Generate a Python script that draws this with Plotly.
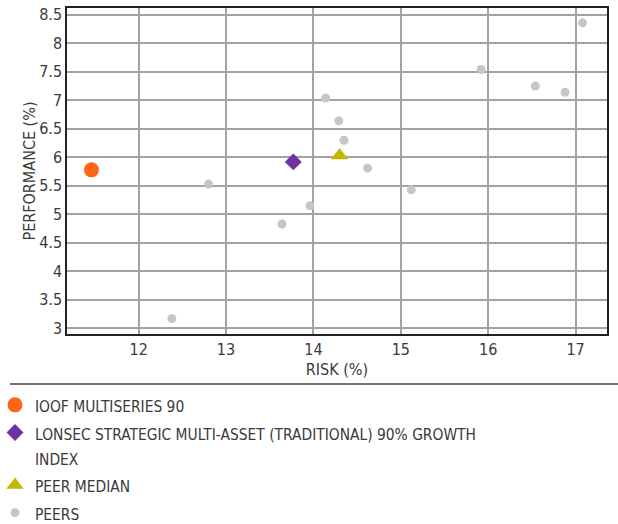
import plotly.graph_objects as go

# Data
ioof_name = "IOOF MULTISERIES 90"
ioof_risk = [11.46]
ioof_perf = [5.78]

lonsec_name = "LONSEC STRATEGIC MULTI-ASSET (TRADITIONAL) 90% GROWTH<br>INDEX"
lonsec_risk = [13.77]
lonsec_perf = [5.92]

median_name = "PEER MEDIAN"
median_risk = [14.30]
median_perf = [6.03]

peers_name = "PEERS"
peers_risk = [12.38, 12.80, 13.64, 13.96, 14.14, 14.29, 14.35, 14.62, 15.12, 15.92, 16.54, 16.88, 17.08]
peers_perf = [3.17, 5.53, 4.83, 5.15, 7.04, 6.64, 6.30, 5.81, 5.43, 7.54, 7.25, 7.14, 8.36]

x_ticks = [12, 13, 14, 15, 16, 17]
y_ticks = [3, 3.5, 4, 4.5, 5, 5.5, 6, 6.5, 7, 7.5, 8, 8.5]
y_tick_text = ["3", "3.5", "4", "4.5", "5", "5.5", "6", "6.5", "7", "7.5", "8", "8.5"]

FONT = "DejaVu Sans Condensed"
TXT = "#3a3a3a"

L, R, T, B = 67, 11, 8, 190
W, H = 618, 524
PW, PH = W - L - R, H - T - B


def leg(name):
    return '<span style="font-size:15.4px">' + name.replace("<br>", '</span><br><span style="font-size:15.4px">') + "</span>"


fig = go.Figure()
fig.add_trace(go.Scatter(x=ioof_risk, y=ioof_perf, mode="markers", name=leg(ioof_name),
                         marker=dict(symbol="circle", size=15, color="#ff6418")))
fig.add_trace(go.Scatter(x=lonsec_risk, y=lonsec_perf, mode="markers", name=leg(lonsec_name),
                         marker=dict(symbol="diamond", size=13, color="#7030a0")))
fig.add_trace(go.Scatter(x=median_risk, y=median_perf, mode="markers", name=leg(median_name),
                         marker=dict(symbol="triangle-up", size=15, color="#c2b800")))
fig.add_trace(go.Scatter(x=peers_risk, y=peers_perf, mode="markers", name=leg(peers_name),
                         marker=dict(symbol="circle", size=9, color="#c6c6c6")))

fig.update_layout(
    width=W, height=H,
    margin=dict(l=L, r=R, t=T, b=B, autoexpand=False),
    plot_bgcolor="white", paper_bgcolor="white",
    font=dict(family=FONT, size=16, color=TXT),
    showlegend=True,
    legend=dict(x=(-5 - L) / PW, y=(T + PH - 386) / PH,
                xanchor="left", yanchor="top", traceorder="normal", valign="top",
                font=dict(family=FONT, size=19, color=TXT),
                itemsizing="trace", tracegroupgap=0, bgcolor="rgba(0,0,0,0)"),
    xaxis=dict(range=[11.18, 17.36], tickvals=x_ticks, showgrid=True, gridcolor="#a3a3a3",
               gridwidth=1.5, showline=True, linecolor="#222", linewidth=1.5, mirror=True,
               zeroline=False, ticks="", title=dict(text="RISK (%)", standoff=6,
               font=dict(family=FONT, size=16, color=TXT)),
               tickfont=dict(family=FONT, size=16, color=TXT)),
    yaxis=dict(range=[2.9, 8.62], tickvals=y_ticks, ticktext=y_tick_text, showgrid=True,
               gridcolor="#a3a3a3", gridwidth=1.5, showline=True, linecolor="#222",
               linewidth=1.5, mirror=True, zeroline=False, ticks="",
               title=dict(text="PERFORMANCE (%)", standoff=0,
                          font=dict(family=FONT, size=16, color=TXT)),
               tickfont=dict(family=FONT, size=16, color=TXT)),
)

fig.add_shape(type="line", xref="paper", yref="paper",
              x0=(10 - L) / PW, x1=(W - L) / PW,
              y0=(T + PH - 384) / PH, y1=(T + PH - 384) / PH,
              line=dict(color="#444", width=1.5))

fig.write_html("out.html", config={"displayModeBar": False},
               post_script="document.body.style.margin='0px';")
